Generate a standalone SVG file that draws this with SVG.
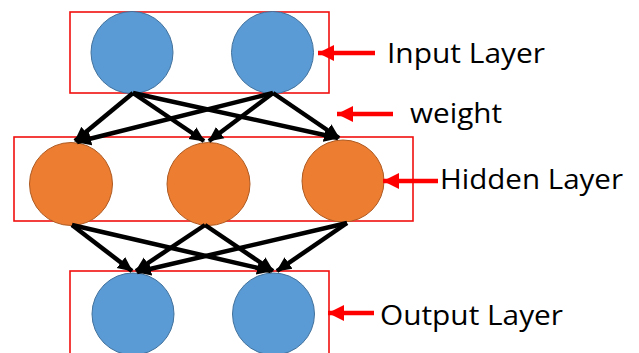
<svg xmlns="http://www.w3.org/2000/svg" width="639" height="353" viewBox="0 0 639 353">
<defs>
<style>
.box{fill:none;stroke:#f20f0f;stroke-width:1.6}
.in{fill:#5b9bd5;stroke:#41719c;stroke-width:1}
.hid{fill:#ed7d31;stroke:#ae5a21;stroke-width:1}
.w{stroke:#000;stroke-width:4.5;fill:none;marker-end:url(#ah)}
.ra{stroke:#f00;stroke-width:4.5;fill:none;marker-end:url(#rh)}
.lbl{font-family:"Open Sans","Liberation Sans",sans-serif;font-size:28px;fill:#000}
</style>
<marker id="ah" markerUnits="userSpaceOnUse" markerWidth="16" markerHeight="16" viewBox="0 0 16 16" refX="14" refY="8" orient="auto">
<path d="M0,1 L15,8 L0,15 Z" fill="#000"/>
</marker>
<marker id="rh" markerUnits="userSpaceOnUse" markerWidth="18" markerHeight="18" viewBox="0 0 18 18" refX="16" refY="9" orient="auto">
<path d="M0,1 L16,9 L0,17 Z" fill="#f00"/>
</marker>
</defs>
<rect width="639" height="353" fill="#fff"/>
<g id="input-layer">
<rect class="box" x="70" y="12" width="259" height="81"/>
<circle id="in1" class="in" cx="132" cy="52.5" r="41"/>
<circle id="in2" class="in" cx="272.5" cy="52.5" r="41"/>
</g>
<g id="hidden-layer">
<rect class="box" x="14" y="137" width="399" height="84"/>
<circle id="h1" class="hid" cx="71" cy="184" r="41.5"/>
<circle id="h2" class="hid" cx="208.5" cy="184" r="41.5"/>
<circle id="h3" class="hid" cx="343" cy="181" r="41"/>
</g>
<g id="output-layer">
<rect class="box" x="70" y="271" width="259" height="92"/>
<circle id="o1" class="in" cx="133" cy="314" r="41"/>
<circle id="o2" class="in" cx="273.5" cy="314" r="41"/>
</g>
<g id="connectors">
<line class="w" x1="133" y1="93" x2="75" y2="141"/>
<line class="w" x1="133" y1="93" x2="204" y2="141"/>
<line class="w" x1="133" y1="93" x2="338" y2="138"/>
<line class="w" x1="273" y1="93" x2="77" y2="142"/>
<line class="w" x1="273" y1="93" x2="209" y2="141"/>
<line class="w" x1="273" y1="93" x2="339" y2="138"/>
<line class="w" x1="72" y1="225" x2="132" y2="271"/>
<line class="w" x1="72" y1="225" x2="271" y2="271"/>
<line class="w" x1="205" y1="225" x2="136" y2="271"/>
<line class="w" x1="205" y1="225" x2="273" y2="271"/>
<line class="w" x1="347" y1="223" x2="137" y2="272"/>
<line class="w" x1="347" y1="223" x2="277" y2="271"/>
</g>
<g id="labels">
<line class="ra" x1="375" y1="53" x2="318" y2="53"/>
<text class="lbl" x="387" y="63" textLength="158" lengthAdjust="spacingAndGlyphs">Input Layer</text>
<line class="ra" x1="393" y1="114" x2="337" y2="114"/>
<text class="lbl" x="410" y="123" textLength="92" lengthAdjust="spacingAndGlyphs">weight</text>
<line class="ra" x1="438" y1="181" x2="383" y2="181"/>
<text class="lbl" x="440" y="189" textLength="183" lengthAdjust="spacingAndGlyphs">Hidden Layer</text>
<line class="ra" x1="374" y1="313" x2="328" y2="313"/>
<text class="lbl" x="380" y="325" textLength="183" lengthAdjust="spacingAndGlyphs">Output Layer</text>
</g>
</svg>
